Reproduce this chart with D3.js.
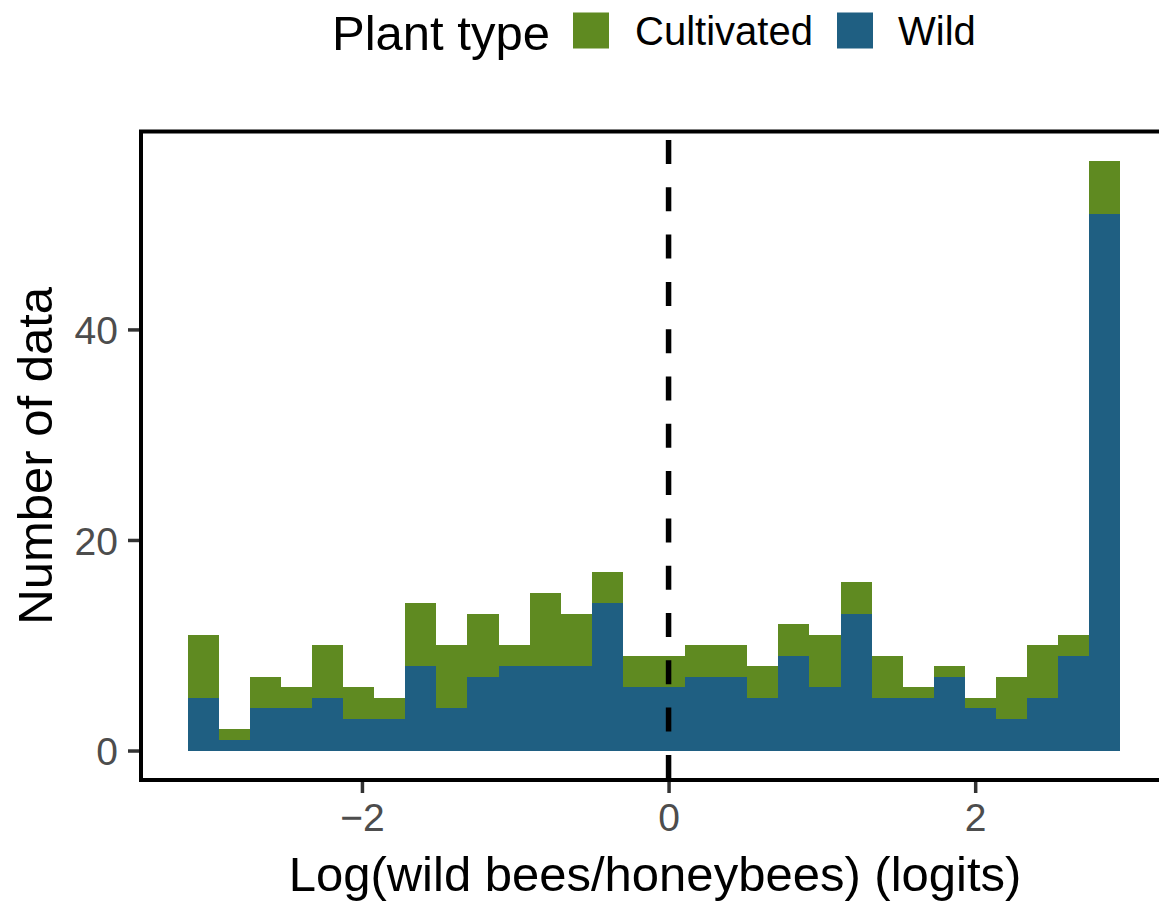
<!DOCTYPE html>
<html>
<head>
<meta charset="utf-8">
<script src="https://cdn.jsdelivr.net/npm/d3@7"></script>
<style>
  html, body { margin: 0; padding: 0; background: #ffffff; }
  svg { display: block; font-family: "Liberation Sans", Arial, Helvetica, sans-serif; }
</style>
</head>
<body>
<svg id="chart" width="1159" height="901"></svg>
<script>
// ---- data ----
const binStart = -3.137;          // left edge of first bin (logits)
const binWidth = 0.2028;          // bin width (logits)
const wildCounts =       [5, 1, 4, 4, 5, 3, 3, 8, 4, 7, 8, 8, 8, 14, 6, 6, 7, 7, 5, 9, 6, 13, 5, 5, 7, 4, 3, 5, 9, 51];
const totalCounts =      [11, 2, 7, 6, 10, 6, 5, 14, 10, 13, 10, 15, 13, 17, 9, 9, 10, 10, 8, 12, 11, 16, 9, 6, 8, 5, 7, 10, 11, 56];
const cultivatedCounts = totalCounts.map((t, i) => t - wildCounts[i]);
const xTicks = [-2, 0, 2];
const yTicks = [0, 20, 40];
const legendTitle = "Plant type";
const seriesNames = ["Cultivated", "Wild"];
const seriesColors = ["#5f8a21", "#1f5f82"];
const xTitle = "Log(wild bees/honeybees) (logits)";
const yTitle = "Number of data";
const vlineAt = 0;

// ---- layout ----
const svg = d3.select("#chart");
const panel = { left: 141, right: 1167, top: 131.5, bottom: 780 };

const nBins = wildCounts.length;
const xMin = binStart, xMax = binStart + nBins * binWidth;
const xPad = (xMax - xMin) * 0.05;
const x = d3.scaleLinear().domain([xMin - xPad, xMax + xPad]).range([panel.left, panel.right]);
const yMaxData = d3.max(totalCounts);
const y = d3.scaleLinear().domain([-yMaxData * 0.05, yMaxData * 1.05]).range([panel.bottom, panel.top]);

// stacked data
const rows = wildCounts.map((w, i) => ({
  x0: binStart + i * binWidth,
  x1: binStart + (i + 1) * binWidth,
  Wild: w,
  Cultivated: cultivatedCounts[i]
}));
const stack = d3.stack().keys(["Wild", "Cultivated"]);
const layers = stack(rows);
const colorOf = d3.scaleOrdinal().domain(seriesNames).range(seriesColors);

const gBars = svg.append("g").attr("shape-rendering", "crispEdges");
layers.forEach(layer => {
  gBars.append("g")
    .attr("fill", colorOf(layer.key))
    .selectAll("rect")
    .data(layer)
    .join("rect")
    .attr("x", d => Math.round(x(d.data.x0)))
    .attr("width", d => Math.round(x(d.data.x1)) - Math.round(x(d.data.x0)))
    .attr("y", d => Math.round(y(d[1])))
    .attr("height", d => Math.max(0, Math.round(y(d[0])) - Math.round(y(d[1]))));
});

// dashed vertical line
svg.append("line")
  .attr("x1", x(vlineAt)).attr("x2", x(vlineAt))
  .attr("y1", panel.top + 8.5).attr("y2", panel.bottom)
  .attr("stroke", "#000").attr("stroke-width", 5.5)
  .attr("stroke-dasharray", "24,23.3");

// panel border
svg.append("rect")
  .attr("x", panel.left).attr("y", panel.top)
  .attr("width", panel.right - panel.left).attr("height", panel.bottom - panel.top)
  .attr("fill", "none").attr("stroke", "#000").attr("stroke-width", 4);

// y axis
const yAxis = svg.append("g")
  .attr("transform", `translate(${panel.left - 2},0)`)
  .call(d3.axisLeft(y).tickValues(yTicks).tickSize(11).tickPadding(10).tickFormat(d3.format("d")));
yAxis.select(".domain").remove();
yAxis.selectAll(".tick line").attr("stroke", "#333").attr("stroke-width", 3.5);
yAxis.selectAll(".tick text").attr("fill", "#4d4d4d").attr("font-size", 39).attr("font-family", "Liberation Sans, Arial, sans-serif").attr("dy", "0.36em");

// x axis
const xAxis = svg.append("g")
  .attr("transform", `translate(0,${panel.bottom + 2})`)
  .call(d3.axisBottom(x).tickValues(xTicks).tickSize(11).tickPadding(10)
    .tickFormat(d => d < 0 ? "\u2212" + Math.abs(d) : String(d)));
xAxis.select(".domain").remove();
xAxis.selectAll(".tick line").attr("stroke", "#333").attr("stroke-width", 3.5);
xAxis.selectAll(".tick text").attr("fill", "#4d4d4d").attr("font-size", 39).attr("font-family", "Liberation Sans, Arial, sans-serif").attr("dy", "0.72em");

// axis titles
svg.append("text")
  .attr("x", (panel.left + panel.right) / 2 + 1).attr("y", 891)
  .attr("text-anchor", "middle").attr("font-size", 49).attr("fill", "#000")
  .text(xTitle);
svg.append("text")
  .attr("transform", `translate(52,${(panel.top + panel.bottom) / 2}) rotate(-90)`)
  .attr("text-anchor", "middle").attr("font-size", 49).attr("fill", "#000")
  .text(yTitle);

// legend
const lg = svg.append("g");
lg.append("text").attr("x", 332).attr("y", 50).attr("font-size", 49).attr("fill", "#000").text(legendTitle);
const keyX = [573, 837];
const labX = [635, 898];
seriesNames.forEach((name, i) => {
  lg.append("rect").attr("x", keyX[i]).attr("y", 12.5).attr("width", 36).attr("height", 36).attr("fill", colorOf(name));
  lg.append("text").attr("x", labX[i]).attr("y", 45).attr("font-size", 40).attr("fill", "#000").text(name);
});
</script>
</body>
</html>
